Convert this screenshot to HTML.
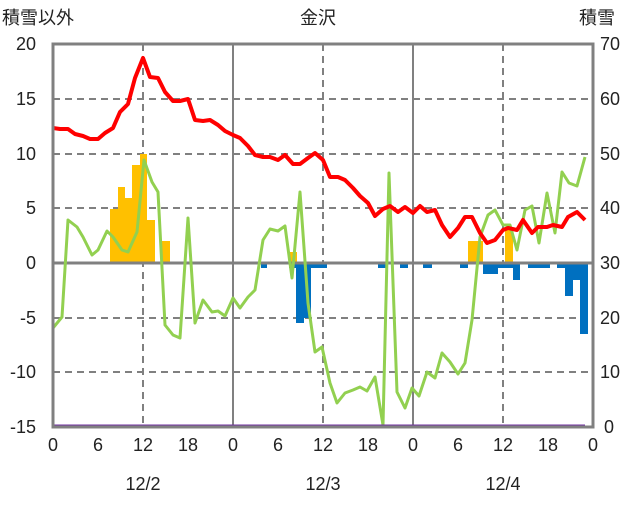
<!DOCTYPE html>
<html><head><meta charset="utf-8"><style>
body{margin:0;background:#fff;}
svg text{font-family:"Liberation Sans","Noto Sans CJK JP",sans-serif;font-size:18px;fill:#222;}
</style></head><body>
<svg width="636" height="501" viewBox="0 0 636 501" xmlns="http://www.w3.org/2000/svg">
<g stroke="#808080" stroke-width="2" stroke-dasharray="7,5">
<line x1="53" y1="99" x2="593" y2="99"/><line x1="53" y1="154" x2="593" y2="154"/>
<line x1="53" y1="208" x2="593" y2="208"/><line x1="53" y1="318" x2="593" y2="318"/>
<line x1="53" y1="372" x2="593" y2="372"/>
<line x1="143" y1="44" x2="143" y2="427"/><line x1="323" y1="44" x2="323" y2="427"/><line x1="503" y1="44" x2="503" y2="427"/>
</g>
<g stroke="#808080" stroke-width="2"><line x1="233" y1="44" x2="233" y2="427"/><line x1="413" y1="44" x2="413" y2="427"/></g>
<g fill="#FFC000">
<rect x="110" y="209" width="8" height="54"/><rect x="118" y="187" width="7" height="76"/><rect x="125" y="198" width="7" height="65"/><rect x="132" y="165" width="8" height="98"/><rect x="140" y="154" width="7" height="109"/><rect x="147" y="220" width="8" height="43"/><rect x="162" y="241" width="8" height="22"/>
<rect x="290" y="252" width="7" height="11"/><rect x="468" y="241" width="15" height="22"/><rect x="505" y="230" width="8" height="33"/>
</g>
<g fill="#0070C0">
<rect x="261" y="263" width="6" height="5"/><rect x="289" y="263" width="7" height="5"/><rect x="296" y="263" width="8" height="60"/><rect x="304" y="263" width="7" height="55"/><rect x="311" y="263" width="16" height="5"/>
<rect x="378" y="263" width="8" height="5"/><rect x="400" y="263" width="8" height="5"/><rect x="423" y="263" width="9" height="5"/><rect x="460" y="263" width="8" height="5"/>
<rect x="483" y="263" width="15" height="11"/><rect x="498" y="263" width="15" height="5"/><rect x="513" y="263" width="7" height="17"/><rect x="528" y="263" width="22" height="5"/><rect x="557" y="263" width="8" height="5"/><rect x="565" y="263" width="8" height="33"/><rect x="573" y="263" width="7" height="17"/><rect x="580" y="263" width="8" height="71"/>
</g>
<line x1="53" y1="263" x2="593" y2="263" stroke="#808080" stroke-width="3"/>
<polyline fill="none" stroke="#92D050" stroke-width="3" stroke-linejoin="round" points="53,328 62,317 68,220 77,227 83,237 92,255 98,250 107,231 113,237 122,250 128,252 137,232 144,160 152,182 158,192 165,325 173,335 180,338 188,218 195,323 203,300 212,312 218,311 225,316 233,298 240,308 248,297 255,290 263,240 270,229 278,231 285,226 292,278 300,192 308,303 315,352 322,347 330,383 337,403 345,393 353,390 360,387 367,391 375,377 383,425 389,173 397,392 405,408 412,388 419,396 427,372 435,378 442,353 450,362 458,374 465,363 472,320 480,237 488,215 495,210 503,225 510,225 517,250 525,210 532,206 539,243 547,193 555,233 562,172 569,183 577,186 585,157"/>
<polyline fill="none" stroke="#FF0000" stroke-width="4" stroke-linejoin="round" points="53,128 60,129 68,129 75,134 83,136 90,139 98,139 105,133 113,128 120,112 128,104 135,78 143,58 150,77 158,78 165,92 173,101 180,101 188,99 195,120 203,121 210,120 218,125 225,131 233,135 240,138 248,146 255,155 263,157 270,157 278,160 285,155 293,164 300,164 308,158 315,153 323,160 330,177 338,177 345,180 353,188 360,196 368,203 375,216 383,209 390,206 398,212 405,207 413,213 420,206 427,212 435,210 442,225 450,237 458,228 465,217 472,217 480,233 487,243 495,240 503,230 508,228 517,230 523,220 532,233 538,227 547,227 553,225 562,227 568,217 577,212 585,220"/>
<line x1="53" y1="426" x2="585" y2="426" stroke="#7030A0" stroke-width="3"/>
<rect x="53" y="44" width="540" height="383" fill="none" stroke="#808080" stroke-width="3"/>
<g text-anchor="end">
<text x="36" y="50">20</text><text x="36" y="105">15</text><text x="36" y="160">10</text><text x="36" y="214">5</text><text x="36" y="269">0</text><text x="36" y="324">-5</text><text x="36" y="378">-10</text><text x="36" y="433">-15</text>
</g>
<g text-anchor="start">
<text x="600" y="50">70</text><text x="600" y="105">60</text><text x="600" y="160">50</text><text x="600" y="214">40</text><text x="600" y="269">30</text><text x="600" y="324">20</text><text x="600" y="378">10</text><text x="604" y="433">0</text>
</g>
<g text-anchor="middle">
<text x="53" y="451">0</text><text x="98" y="451">6</text><text x="143" y="451">12</text><text x="188" y="451">18</text><text x="233" y="451">0</text><text x="278" y="451">6</text><text x="323" y="451">12</text><text x="368" y="451">18</text><text x="413" y="451">0</text><text x="458" y="451">6</text><text x="503" y="451">12</text><text x="548" y="451">18</text><text x="593" y="451">0</text>
<text x="143" y="490">12/2</text><text x="323" y="490">12/3</text><text x="503" y="490">12/4</text>
<text x="318" y="24">金沢</text>
</g>
<text x="2" y="24">積雪以外</text>
<text x="597" y="24" text-anchor="middle">積雪</text>
</svg>
</body></html>
